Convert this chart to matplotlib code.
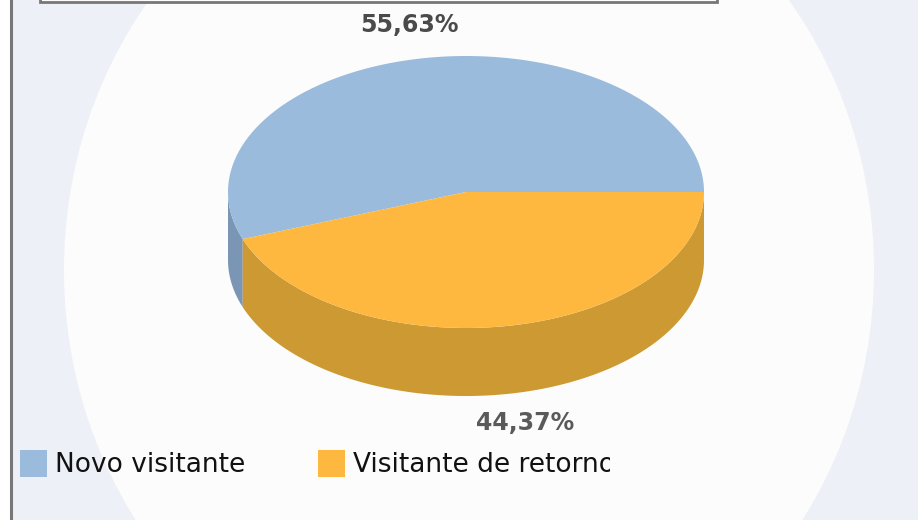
import numpy as np
import matplotlib
matplotlib.use("Agg")
import matplotlib.pyplot as plt
from matplotlib.patches import Ellipse, Polygon, Rectangle
from matplotlib.transforms import Bbox

categories = ["Novo visitante", "Visitante de retorno"]
shares = [55.63, 44.37]
share_labels = ["55,63%", "44,37%"]
top_colors = ["#9bbbdd", "#ffb83f"]
side_colors = ["#7b96b4", "#cc9933"]

# pie geometry in image pixels
cx, cy = 466, 192
rx, ry = 238, 136
depth = 68


def rim(a0, a1):
    t = np.radians(np.linspace(a0, a1, 200))
    return np.column_stack([cx + rx*np.cos(t), cy - ry*np.sin(t)])


fig = plt.figure(figsize=(9.18, 5.2), dpi=100, facecolor="white")
ax = fig.add_axes([0, 0, 1, 1])
ax.set_xlim(0, 918)
ax.set_ylim(520, 0)
ax.axis("off")

# background with pale disc
ax.add_patch(Rectangle((10, 0), 908, 520, fc="#edf1f7", ec="none", zorder=0))
ax.add_patch(Ellipse((469, 270), 810, 880, fc="#fcfcfc", ec="none", zorder=1))
ax.plot([10.5, 10.5], [0, 520], color="#777777", lw=2.2, zorder=2)

# cut off title box at the top
ax.add_patch(Rectangle((40, -10), 677, 11.5, fc="#fcfcfc", ec="#777777", lw=2, zorder=2))

# slices: first one runs counter clockwise from 3 o'clock
angles = np.cumsum([0] + [s/sum(shares)*360 for s in shares])

# side walls, only the part facing the viewer
for i in range(len(shares)):
    a0, a1 = max(angles[i], 180), max(angles[i+1], 180)
    if a1 > a0:
        edge = rim(a0, a1)
        wall = np.vstack([edge, (edge + [0, depth])[::-1]])
        ax.add_patch(Polygon(wall, fc=side_colors[i], ec="none", zorder=3))

for i in range(len(shares)):
    edge = rim(angles[i], angles[i+1])
    ax.add_patch(Polygon(np.vstack([[cx, cy], edge]), fc=top_colors[i], ec="none", zorder=4))

ax.text(409, 25, share_labels[0], ha="center", va="center", fontsize=17,
        fontweight="bold", color="#4a4a4a", zorder=5)
ax.text(525, 423, share_labels[1], ha="center", va="center", fontsize=17,
        fontweight="bold", color="#5a5a5a", zorder=5)

# legend by hand, second label is clipped in the original
for name, col, x in zip(categories, top_colors, [20, 318]):
    ax.add_patch(Rectangle((x, 450), 27, 27, fc=col, ec="none", zorder=5))
    t = ax.text(x + 35, 465, name, ha="left", va="center", fontsize=19,
                color="#111111", zorder=5)
    t.set_clip_box(Bbox([[x + 30, 0], [610, 520]]))
    t.set_clip_on(True)

fig.savefig("out.png", dpi=100)
